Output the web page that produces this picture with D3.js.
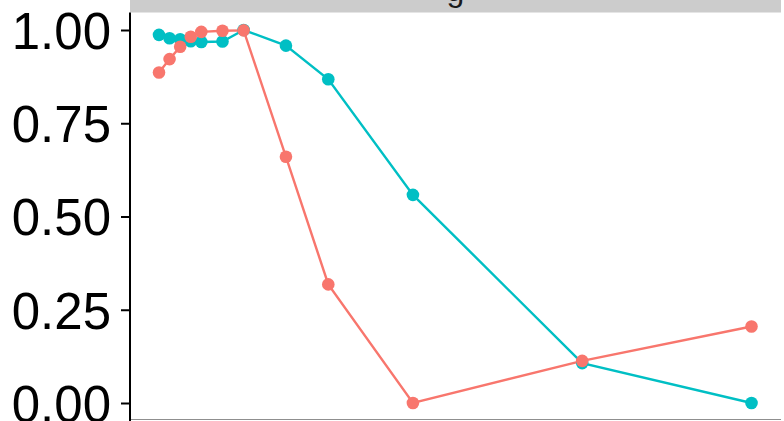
<!DOCTYPE html>
<html>
<head>
<meta charset="utf-8">
<script src="https://cdn.jsdelivr.net/npm/d3@7"></script>
<style>
html,body{margin:0;padding:0;background:#fff;}
svg{display:block;}
</style>
</head>
<body>
<svg id="chart" width="784" height="421"></svg>
<script>
const xValues = [1, 2, 3, 4, 5, 7, 9, 13, 17, 25, 41, 57];
const seriesNames = ["A", "B"];
const seriesA = [0.886, 0.922, 0.955, 0.982, 0.995, 0.998, 0.999, 0.660, 0.318, 0.000, 0.113, 0.205];
const seriesB = [0.987, 0.978, 0.975, 0.970, 0.968, 0.969, 1.000, 0.958, 0.868, 0.558, 0.107, 0.000];
const seriesColors = ["#F8766D", "#00BFC4"];
const yTicks = [0, 0.25, 0.5, 0.75, 1];
const stripLabel = "g";

const svg = d3.select("#chart");
const panelLeft = 130, panelRight = 781, stripTop = -40, stripBottom = 12.5;

const x = d3.scaleLinear().domain([1, 57]).range([159, 751.5]);
const y = d3.scaleLinear().domain([0, 1]).range([403, 30]);

// strip
svg.append("rect").attr("x", panelLeft).attr("y", stripTop)
  .attr("width", panelRight - panelLeft).attr("height", stripBottom - stripTop)
  .attr("fill", "#CCCCCC");
svg.append("text").attr("x", (panelLeft + panelRight) / 2).attr("y", 1)
  .attr("text-anchor", "middle")
  .attr("font-family", "'Liberation Sans', Arial, sans-serif")
  .attr("font-size", 32).attr("fill", "#1a1a1a").text(stripLabel);

// bottom border line
svg.append("line").attr("x1", panelLeft).attr("x2", panelRight)
  .attr("y1", 419.5).attr("y2", 419.5)
  .attr("stroke", "#8f8f8f").attr("stroke-width", 1.2);

// y axis
const yAxis = d3.axisLeft(y).tickValues(yTicks).tickFormat(d3.format(".2f"))
  .tickSize(9).tickPadding(10);
const gy = svg.append("g").attr("transform", `translate(${panelLeft},0)`).call(yAxis);
gy.select(".domain").remove();
gy.selectAll(".tick line").attr("stroke", "#000").attr("stroke-width", 2);
gy.selectAll(".tick text").attr("font-family", "'Liberation Sans', Arial, sans-serif")
  .attr("font-size", 51).attr("fill", "#000").attr("dy", "0.36em");
svg.append("line").attr("x1", panelLeft).attr("x2", panelLeft)
  .attr("y1", stripBottom).attr("y2", 421)
  .attr("stroke", "#000").attr("stroke-width", 2);

const series = [seriesA, seriesB];
const order = [1, 0];
const line = d3.line().x((d, i) => x(xValues[i])).y(d => y(d));
order.forEach(si => {
  svg.append("path").datum(series[si]).attr("d", line)
    .attr("fill", "none").attr("stroke", seriesColors[si]).attr("stroke-width", 2.4);
});
order.forEach(si => {
  svg.append("g").selectAll("circle").data(series[si]).join("circle")
    .attr("cx", (d, i) => x(xValues[i])).attr("cy", d => y(d)).attr("r", 6.3)
    .attr("fill", seriesColors[si]);
});
</script>
</body>
</html>
